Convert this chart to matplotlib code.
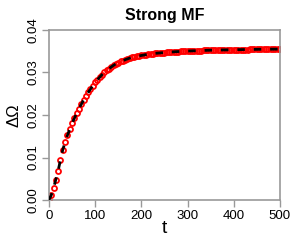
import numpy as np
import matplotlib
matplotlib.use("Agg")
import matplotlib.pyplot as plt

t = list(range(0, 505, 5))
delta_omega = [
    0.0, 1.1, 2.8, 4.8, 6.9, 9.4, 11.8, 13.6, 15.2, 16.6,
    18.0, 19.2, 20.4, 21.5, 22.5, 23.5, 24.4, 25.3, 26.1, 26.9,
    27.7, 28.3, 28.9, 29.5, 30.0, 30.5, 30.9, 31.3, 31.7, 32.0,
    32.3, 32.6, 32.8, 33.0, 33.2, 33.4, 33.6, 33.7, 33.8, 33.9,
    34.0, 34.1, 34.2, 34.3, 34.35, 34.4, 34.5, 34.55, 34.6, 34.65,
    34.7, 34.74, 34.78, 34.82, 34.86, 34.9, 34.93, 34.96, 34.99, 35.02,
    35.05, 35.07, 35.09, 35.11, 35.13, 35.15, 35.17, 35.19, 35.21, 35.23,
    35.25, 35.26, 35.27, 35.28, 35.29, 35.3, 35.31, 35.32, 35.33, 35.34,
    35.35, 35.36, 35.37, 35.38, 35.39, 35.4, 35.41, 35.42, 35.43, 35.44,
    35.45, 35.46, 35.47, 35.47, 35.48, 35.48, 35.49, 35.49, 35.5, 35.5,
    35.5,
]
delta_omega = [v * 1e-3 for v in delta_omega]

xticks = [0, 100, 200, 300, 400, 500]
yticks = [0.00, 0.01, 0.02, 0.03, 0.04]

plt.rcParams['font.family'] = ['Liberation Sans', 'DejaVu Sans']

fig = plt.figure(figsize=(3, 2.5), dpi=100)
ax = fig.add_axes([0.163, 0.2, 0.77, 0.68])

ax.plot(t, delta_omega, linestyle='none', marker='o', markersize=3.6,
        markerfacecolor='none', markeredgecolor='red', markeredgewidth=1.3, zorder=2)
ax.plot(t, delta_omega, color='black', linestyle=(0, (2.7, 3.2)), linewidth=2.0, zorder=3)

ax.set_xlim(0, 500)
ax.set_ylim(0, 0.04)
ax.set_xticks(xticks)
ax.set_xticklabels([str(v) for v in xticks], fontsize=9.5)
ax.set_yticks(yticks)
ax.set_yticklabels([f"{v:.2f}" for v in yticks], fontsize=9.5, rotation=90, va='center')

for s in ax.spines.values():
    s.set_color('#999999')
    s.set_linewidth(1.2)
ax.tick_params(axis='both', colors='#999999', labelcolor='black', length=5, width=1.0, pad=2)

ax.set_xlabel('t', fontsize=14, labelpad=-1)
ax.set_ylabel('ΔΩ', fontsize=12, labelpad=4)
ax.set_title('Strong MF', fontsize=11.5, fontweight='bold', pad=7)

fig.savefig('out.png', dpi=100)
